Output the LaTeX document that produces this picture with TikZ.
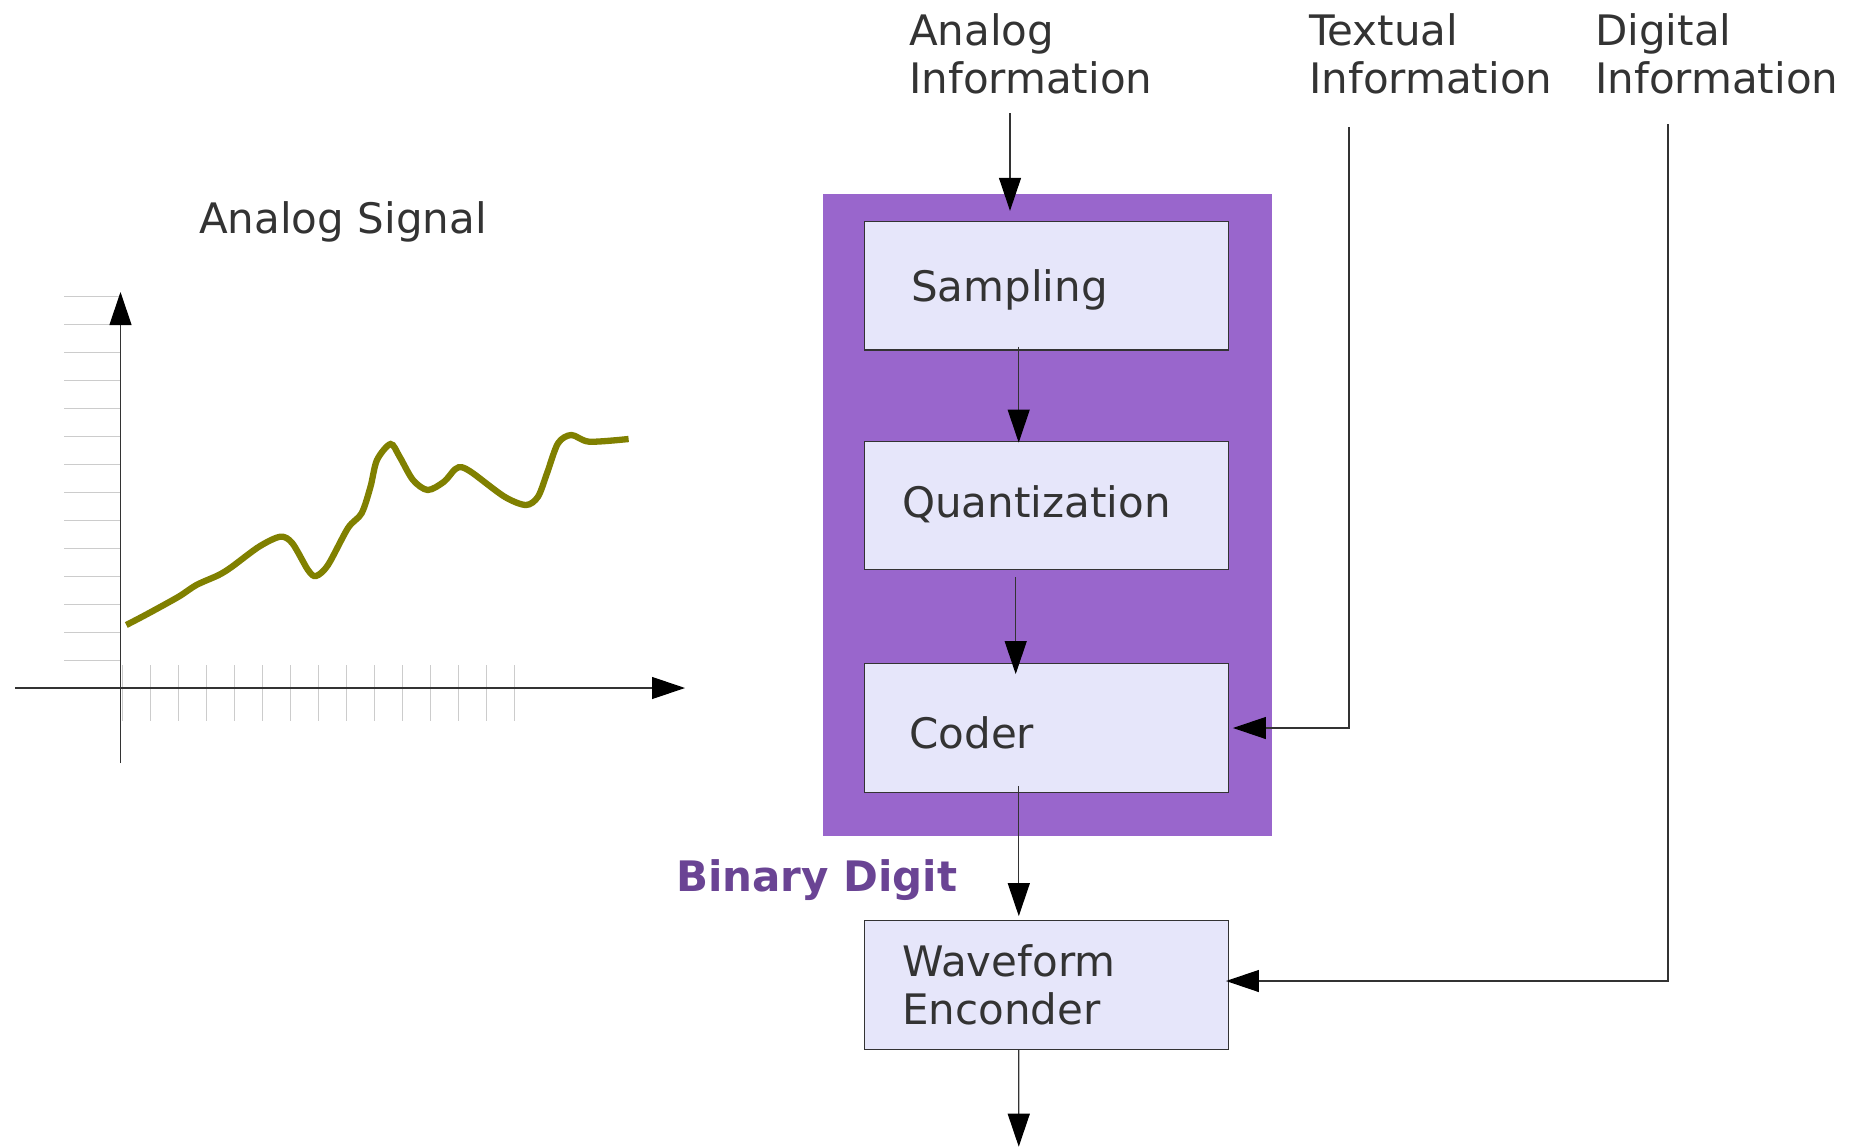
\documentclass[tikz,border=0pt]{standalone}
\usepackage{fontspec}
\setmainfont{DejaVu Sans}
\usetikzlibrary{arrows.meta}
\definecolor{txt}{HTML}{333333}
\definecolor{conn}{HTML}{333333}
\definecolor{boxfill}{HTML}{E6E6FA}
\definecolor{boxline}{HTML}{333333}
\definecolor{encpurple}{HTML}{9966CC}
\definecolor{bdpurple}{HTML}{6A4494}
\definecolor{gridgray}{HTML}{CCCCCC}
\definecolor{signal}{HTML}{808000}
\tikzset{
  lbl/.style={font=\fontsize{42pt}{48.5pt}\selectfont, text=txt, inner sep=0pt, anchor=base west, align=left},
  box/.style={draw=boxline, line width=1.3pt, fill=boxfill, minimum width=364pt, minimum height=128.5pt,
    inner ysep=0pt, align=left, text=txt, font=\fontsize{42pt}{48.5pt}\selectfont},
  encblock/.style={fill=encpurple, draw=none, minimum width=449pt, minimum height=642pt, inner sep=0pt},
  arr/.style={draw=conn, line width=1.2pt, -{Triangle[length=33pt,width=22pt,color=black]}},
  gridln/.style={draw=gridgray, line width=1pt},
  axis/.style={draw=conn, line width=1.2pt, -{Triangle[length=33pt,width=22pt,color=black]}},
}
\begin{document}
\begin{tikzpicture}[x=1pt,y=-1pt]
\useasboundingbox[fill=white] (0,0) rectangle (1863,1148);

% ---------- Analog signal chart ----------
\node[lbl] (title) at (199,233.3) {Analog Signal};
\foreach \k in {0,...,13}{
  \draw[gridln] (64,{296+28*\k}) -- (120,{296+28*\k});
}
\foreach \k in {0,...,14}{
  \draw[gridln] ({122+28.05*\k},665) -- ({122+28.05*\k},721);
}
\draw[axis] (15,688) -- (685,688);
\draw[axis] (120.5,763) -- (120.5,292);
\draw[signal, line width=6.3pt] plot[smooth, tension=0.5] coordinates {
 (126.3,625) (147.3,614) (178.6,596.7) (196.4,585) (218.75,575) (232,566.7) (259,546.7)
 (280.4,536.7) (292.4,543.3) (308,570) (316,576) (328,565) (348,528) (361.6,513.3)
 (370.5,486.7) (377,460) (390.6,444) (399.6,456.7) (413,480) (427.7,490) (444,481.7)
 (455,469.3) (462,467.3) (473,473.3) (504.5,496.7) (525.9,505) (538,496.7) (547,473.3)
 (558,443.3) (571.4,435) (589.3,441.7) (628.6,439)};

% ---------- Encoder block ----------
\node[encblock] (enc) at (1047.5,515.2) {};
\node[box, inner xsep=47pt, text width=270pt, text height=32pt, text depth=1.4pt] (samp) at (1046.3,285.75) {Sampling};
\node[box, inner xsep=38pt, text width=288pt, text height=32pt, text depth=8.6pt] (quant) at (1046.3,505.5) {Quantization};
\node[box, inner xsep=45pt, text width=274pt, text height=40pt, text depth=0pt] (coder) at (1046.3,728) {Coder};
\node[box, inner xsep=38pt, text width=288pt] (wave) at (1046.3,985) {Waveform\\Enconder};

\node[lbl, font=\fontsize{42pt}{48.5pt}\selectfont\bfseries, text=bdpurple] (bin) at (676,891.7) {Binary Digit};

% ---------- Inputs ----------
\node[lbl] (ainfo) at (909,93.5) {Analog\\Information};
\node[lbl] (tinfo) at (1309,93.5) {Textual\\Information};
\node[lbl] (dinfo) at (1595,93.5) {Digital\\Information};

\coordinate (ain) at (1010,113);
\coordinate (tin) at (1349,127);
\coordinate (din) at (1668,124);
\coordinate (out) at (1018.75,1146.7);

\draw[arr] (ain) -- ([yshift=10pt]samp.north -| ain);
\draw[arr] ([xshift=-27.6pt,yshift=4pt]samp.south) -- ([xshift=-27.6pt,yshift=-2pt]quant.north);
\draw[arr] ([xshift=-30.6pt,yshift=-7pt]quant.south) -- ([xshift=-30.6pt,yshift=-11pt]coder.north);
\draw[arr] ([xshift=-27.5pt,yshift=7pt]coder.south) -- ([xshift=-27.5pt,yshift=4pt]wave.north);
\draw[arr] ([xshift=-27.5pt]wave.south) -- (out);
\draw[arr] (tin) |- ([xshift=4pt]coder.east);
\draw[arr] (din) |- ([xshift=-3pt,yshift=4pt]wave.east);
\end{tikzpicture}
\end{document}
